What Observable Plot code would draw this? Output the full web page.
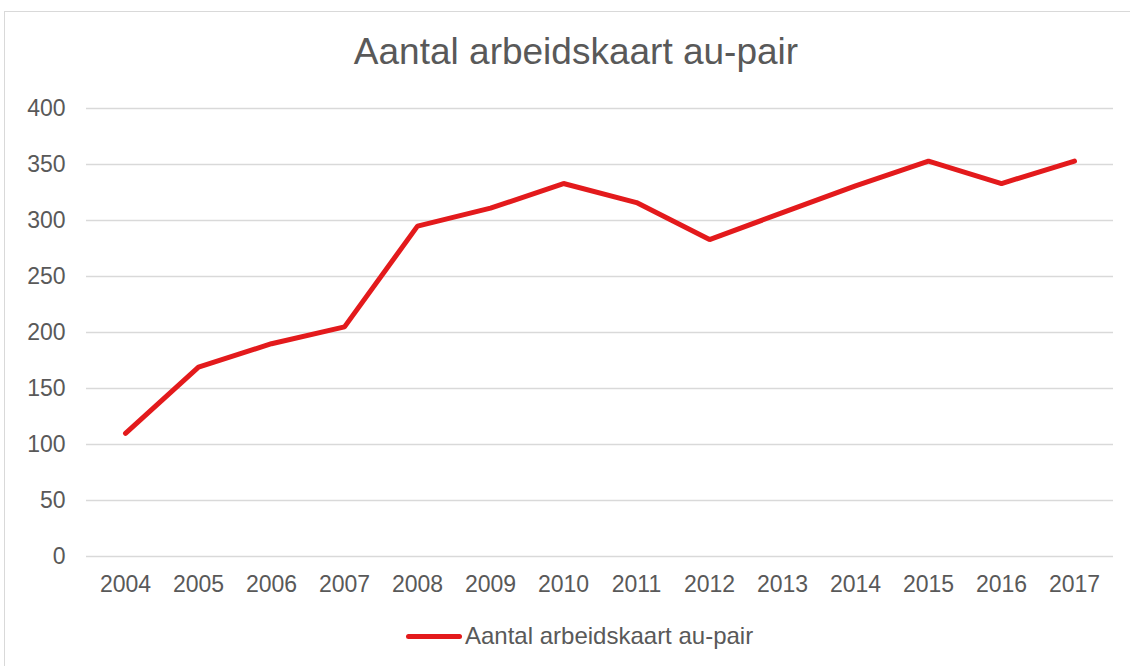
<!DOCTYPE html>
<html>
<head>
<meta charset="utf-8">
<script src="https://cdn.jsdelivr.net/npm/d3@7"></script>
<script src="https://cdn.jsdelivr.net/npm/@observablehq/plot@0.6"></script>
<style>
  html, body { margin: 0; padding: 0; background: #fff; }
  #wrap { position: relative; width: 1130px; height: 666px; overflow: hidden; font-family: "Liberation Sans", Arial, sans-serif; }
  #border { position: absolute; left: 4px; top: 11px; width: 1130px; height: 700px; border: 1px solid #d9d9d9; box-sizing: border-box; }
  #title { position: absolute; left: 0; top: 29px; width: 1152px; text-align: center; font-size: 37px; color: #595959; line-height: 46px; }
  #chart { position: absolute; left: 0; top: 0; }
  #legend { position: absolute; top: 621px; left: 406px; font-size: 24px; color: #595959; line-height: 30px; display: flex; align-items: center; }
  #legend .sw { width: 56px; height: 5px; background: #e31a1c; border-radius: 3px; margin-right: 3px; }
</style>
</head>
<body>
<div id="wrap">
  <div id="border"></div>
  <div id="chart"></div>
  <div id="title">Aantal arbeidskaart au-pair</div>
  <div id="legend"><span class="sw"></span><span>Aantal arbeidskaart au-pair</span></div>
</div>
<script>
const seriesName = "Aantal arbeidskaart au-pair";
const years = ["2004","2005","2006","2007","2008","2009","2010","2011","2012","2013","2014","2015","2016","2017"];
const counts = [110, 169, 190, 205, 295, 311, 333, 316, 283, 307, 331, 353, 333, 353];
const yTicks = [0, 50, 100, 150, 200, 250, 300, 350, 400];

const data = years.map((y, i) => ({year: y, value: counts[i]}));

const plot = Plot.plot({
  width: 1130,
  height: 600,
  marginTop: 108,
  marginBottom: 44,
  marginLeft: 86,
  marginRight: 17,
  style: {fontFamily: '"Liberation Sans", Arial, sans-serif', background: "transparent", color: "#595959"},
  x: {type: "point", domain: years, padding: 0.5, label: null},
  y: {domain: [0, 400], ticks: yTicks, label: null},
  marks: [
    Plot.ruleY(yTicks, {stroke: "#d9d9d9", strokeWidth: 1.5}),
    Plot.axisY({ticks: yTicks, tickSize: 0, tickPadding: 21, fontSize: 23, fill: "#595959", label: null}),
    Plot.axisX({tickSize: 0, tickPadding: 19, fontSize: 23, fill: "#595959", label: null}),
    Plot.line(data, {x: "year", y: "value", stroke: "#e31a1c", strokeWidth: 5, strokeLinecap: "round", strokeLinejoin: "miter"})
  ]
});
document.getElementById("chart").appendChild(plot);
</script>
</body>
</html>
